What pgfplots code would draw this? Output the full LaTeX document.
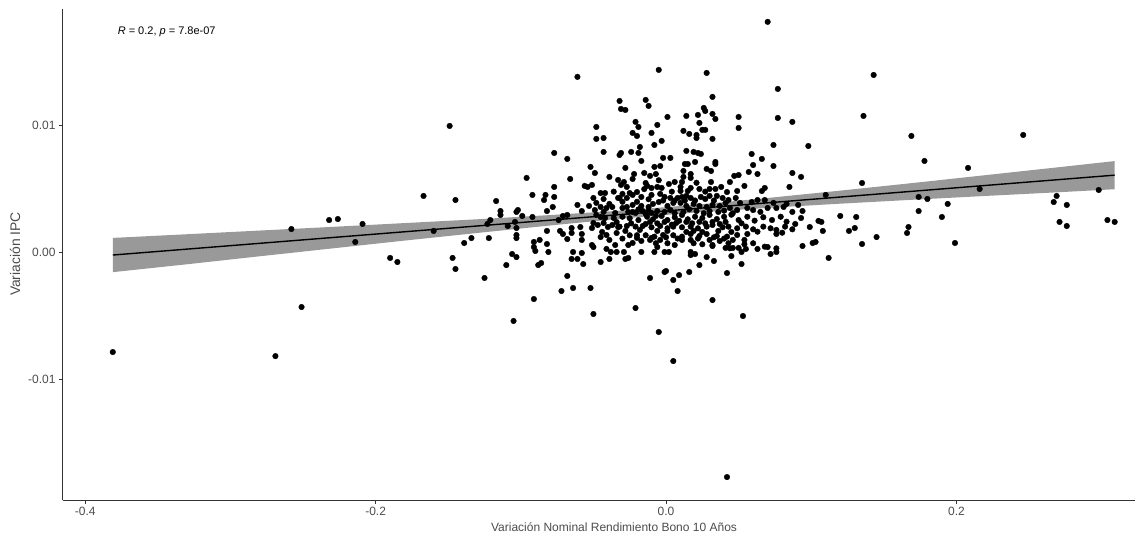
\documentclass[border=0pt]{standalone}
\usepackage{fontspec}
\setmainfont{Liberation Sans}
\usepackage{pgfplots}
\pgfplotsset{compat=1.18}
\definecolor{axisgrey}{gray}{0.2}
\definecolor{ticktext}{gray}{0.3}
\definecolor{bandgrey}{gray}{0.6}
\begin{document}
\begin{tikzpicture}
\useasboundingbox (-63pt,-36pt) rectangle (1072pt,500pt);
\begin{axis}[
  scale only axis, width=1072pt, height=491pt,
  at={(0pt,0pt)}, anchor=south west,
  xmin=-0.41529, xmax=0.32300, ymin=-0.019519, ymax=0.019204,
  axis lines*=left,
  axis line style={line width=1pt, color=axisgrey},
  tick align=outside, major tick length=4pt,
  tick style={color=axisgrey, line width=0.8pt},
  scaled ticks=false,
  xtick={-0.4,-0.2,0,0.2}, xticklabels={-0.4,-0.2,0.0,0.2},
  ytick={-0.01,0,0.01}, yticklabels={-0.01,0.00,0.01},
  ticklabel style={font=\fontsize{12}{14}\selectfont, text=ticktext},
  xlabel={Variación Nominal Rendimiento Bono 10 Años},
  xlabel style={at={(axis description cs:0.514,-0.055)}, anchor=center, text=ticktext, font=\fontsize{12}{14}\selectfont},
  ylabel={Variación IPC},
  ylabel style={at={(axis description cs:-0.0448,0.501)}, anchor=center, text=ticktext, font=\fontsize{13.9}{16}\selectfont},
]
% confidence band of the linear fit
\addplot[fill=bandgrey, draw=none] coordinates {
 (-0.381,0.00115) (-0.33,0.00144) (-0.28,0.00173) (-0.23,0.00202) (-0.18,0.00232)
 (-0.13,0.00262) (-0.08,0.00295) (-0.03,0.00331) (0.02,0.00376) (0.07,0.00430)
 (0.12,0.00488) (0.17,0.00548) (0.22,0.00610) (0.27,0.00672) (0.309,0.00721)
 (0.309,0.00499) (0.27,0.00475) (0.22,0.00446) (0.17,0.00416) (0.12,0.00385)
 (0.07,0.00352) (0.02,0.00315) (-0.03,0.00268) (-0.08,0.00213) (-0.13,0.00154)
 (-0.18,0.00094) (-0.23,0.00032) (-0.28,-0.00030) (-0.33,-0.00093) (-0.381,-0.00155)
} -- cycle;
% fitted line
\addplot[black, line width=1.4pt] coordinates {(-0.381,-0.0002) (0.309,0.0061)};
% observations
\addplot[only marks, mark=*, mark size=2.8pt, black] coordinates {
(-0.381,-0.00785) (-0.269,-0.00817) (-0.251,-0.00430) (-0.167,0.00446) (-0.258,0.00185)
(-0.232,0.00256) (-0.226,0.00264) (-0.209,0.00225) (-0.214,0.00083) (-0.190,-0.00043)
(-0.185,-0.00075) (-0.160,0.00170) (-0.149,0.00998) (-0.145,0.00414) (-0.147,-0.00043)
(-0.145,-0.00130) (-0.125,-0.00201) (-0.139,0.00075) (-0.134,0.00114) (-0.122,0.00114)
(-0.117,0.00406) (-0.114,0.00327) (-0.114,0.00296) (-0.123,0.00225) (-0.121,0.00256)
(-0.109,0.00209) (-0.103,0.00320) (-0.102,0.00335) (-0.099,0.00288) (-0.104,0.00241)
(-0.103,0.00193) (-0.103,0.00138) (-0.103,0.00114) (-0.110,-0.00099) (-0.106,-0.00012)
(-0.103,-0.00036) (-0.105,-0.00540) (-0.091,-0.00367) (-0.090,0.00012) (-0.091,0.00043)
(-0.088,-0.00099) (-0.086,-0.00083) (-0.081,0.00004) (-0.068,-0.00185) (-0.072,-0.00304)
(-0.064,-0.00280) (-0.052,-0.00280) (-0.050,-0.00485) (-0.065,-0.00051) (-0.061,-0.00051)
(-0.064,0.00004) (-0.058,-0.00004) (-0.057,-0.00091) (-0.045,-0.00075) (-0.039,-0.00051)
(-0.041,0.00028) (-0.038,0.00004) (-0.034,0.00004) (-0.050,0.00043) (-0.029,0.00004)
(-0.028,-0.00051) (-0.026,-0.00043) (-0.017,0.00004) (-0.008,0.00004) (-0.006,0.00043)
(-0.001,0.00004) (0.002,0.00004) (-0.011,-0.00201) (-0.001,-0.00154) (0.000,-0.00146)
(0.005,-0.00217) (0.009,-0.00178) (0.008,-0.00304) (0.016,-0.00154) (0.017,0.00004)
(0.017,-0.00020) (0.020,-0.00012) (0.023,-0.00099) (0.028,-0.00036) (0.033,-0.00067)
(0.032,0.00051) (0.041,0.00036) (0.046,0.00036) (0.050,0.00036) (0.052,0.00004)
(0.055,0.00028) (0.045,-0.00028) (0.052,-0.00091) (0.042,-0.00162) (0.032,-0.00375)
(0.053,-0.00501) (-0.021,-0.00438) (-0.005,-0.00627) (0.005,-0.00856) (0.042,-0.01771)
(0.063,0.00028) (0.070,0.00043) (0.072,-0.00012) (0.076,0.00004) (0.094,0.00051)
(0.143,0.01400) (0.136,0.01077) (0.098,0.00840) (0.169,0.00919) (0.246,0.00927)
(0.178,0.00722) (0.208,0.00667) (0.093,0.00596) (0.135,0.00548) (0.110,0.00454)
(0.216,0.00501) (0.298,0.00493) (0.269,0.00446) (0.267,0.00398) (0.276,0.00375)
(0.174,0.00438) (0.180,0.00422) (0.194,0.00383) (0.174,0.00327) (0.190,0.00280)
(0.094,0.00327) (0.093,0.00272) (0.120,0.00288) (0.131,0.00280) (0.105,0.00249)
(0.107,0.00241) (0.099,0.00201) (0.108,0.00170) (0.126,0.00170) (0.130,0.00193)
(0.167,0.00201) (0.166,0.00154) (0.145,0.00122) (0.101,0.00075) (0.103,0.00083)
(0.135,0.00067) (0.199,0.00075) (0.112,-0.00043) (0.271,0.00241) (0.276,0.00209)
(0.304,0.00256) (0.309,0.00241)
(0.070,0.01819) (-0.061,0.01385) (-0.005,0.01440) (0.028,0.01416) (0.077,0.01290)
(0.032,0.01227) (0.077,0.01061) (0.087,0.01030) (-0.032,0.01195) (-0.031,0.01132)
(-0.028,0.01124) (-0.014,0.01203) (-0.012,0.01156) (-0.048,0.00990) (-0.048,0.00896)
(-0.043,0.00903) (-0.021,0.01030) (-0.019,0.00990) (-0.023,0.00943) (-0.020,0.00919)
(-0.006,0.01006) (-0.010,0.00943) (-0.003,0.00880) (-0.008,0.00848) (0.001,0.01069)
(0.014,0.01077) (0.022,0.01085) (0.026,0.01140) (0.027,0.01116) (0.032,0.01093)
(0.034,0.01053) (0.023,0.01022) (0.025,0.00967) (0.027,0.00967) (0.021,0.00927)
(0.016,0.00935) (0.012,0.00959) (0.021,0.00903) (0.032,0.00896) (0.050,0.01069)
(0.050,0.00982) (0.074,0.00848) (0.074,0.00682) (0.087,0.00627) (-0.043,0.00793)
(-0.032,0.00769) (-0.031,0.00785) (-0.024,0.00793) (-0.019,0.00785) (-0.017,0.00722)
(-0.018,0.00832) (0.014,0.00801) (0.019,0.00793) (0.022,0.00785) (0.024,0.00777)
(-0.077,0.00785) (-0.068,0.00738) (-0.096,0.00588) (-0.066,0.00580) (-0.052,0.00675)
(-0.049,0.00627) (-0.039,0.00596) (-0.033,0.00572) (-0.028,0.00667) (-0.022,0.00619)
(-0.015,0.00627) (-0.011,0.00604) (-0.007,0.00619) (-0.004,0.00682) (-0.002,0.00746)
(0.003,0.00746) (0.013,0.00698) (0.015,0.00698) (0.017,0.00619) (0.012,0.00643)
(0.020,0.00714) (0.028,0.00659) (0.034,0.00714) (0.034,0.00698) (0.031,0.00643)
(0.059,0.00777) (0.066,0.00738) (0.060,0.00690) (0.057,0.00635) (0.063,0.00619)
(0.047,0.00604) (0.050,0.00611) (-0.092,0.00454) (-0.083,0.00454) (-0.084,0.00414)
(-0.077,0.00438) (-0.077,0.00517) (-0.082,0.00327) (-0.078,0.00359) (-0.056,0.00525)
(-0.051,0.00533) (-0.061,0.00375) (-0.058,0.00327) (-0.053,0.00367) (-0.045,0.00469)
(-0.042,0.00469) (-0.092,0.00280) (-0.091,0.00083) (-0.087,0.00099) (-0.082,0.00067)
(-0.082,0.00170) (-0.074,0.00256) (-0.071,0.00288) (-0.068,0.00296) (-0.073,0.00170)
(-0.071,0.00146) (-0.068,0.00106) (-0.065,0.00193) (-0.065,0.00154) (-0.059,0.00201)
(-0.058,0.00146) (-0.033,0.00430) (-0.058,0.00099) (-0.051,0.00059) (-0.045,0.00122)
(-0.039,0.00099) (-0.035,0.00059) (-0.054,0.00517) (-0.050,0.00430) (-0.043,0.00422)
(-0.048,0.00391) (-0.049,0.00335) (-0.045,0.00359) (-0.043,0.00320) (-0.041,0.00351)
(-0.037,0.00359) (-0.035,0.00312) (-0.048,0.00296) (-0.045,0.00280) (-0.042,0.00272)
(-0.050,0.00233) (-0.047,0.00217) (-0.043,0.00233) (-0.040,0.00201) (-0.037,0.00217)
(-0.033,0.00201) (-0.051,0.00193) (-0.044,0.00162) (-0.041,0.00138)
(0.044,0.00556) (0.038,0.00517) (0.031,0.00556) (0.030,0.00501) (0.034,0.00501)
(0.023,0.00501) (0.017,0.00509) (0.015,0.00485) (0.010,0.00485) (-0.003,0.00509)
(-0.006,0.00517) (-0.010,0.00509) (-0.013,0.00525) (-0.014,0.00548) (-0.027,0.00517)
(-0.031,0.00533) (-0.020,0.00477) (-0.025,0.00469) (0.085,0.00517) (0.068,0.00509)
(0.066,0.00485) (0.054,0.00525) (0.049,0.00485) (0.042,0.00477) (0.011,0.00556)
(0.006,0.00556) (0.002,0.00540) (0.010,0.00517) (-0.029,0.00556)
(-0.032,0.00430) (-0.027,0.00430) (-0.023,0.00454) (-0.017,0.00438) (-0.010,0.00454)
(-0.004,0.00462) (-0.001,0.00438) (0.003,0.00430) (0.008,0.00430) (0.011,0.00438)
(0.014,0.00446) (0.017,0.00430) (0.024,0.00438) (0.027,0.00422) (0.030,0.00446)
(0.035,0.00446) (0.039,0.00430) (0.043,0.00414) (0.048,0.00430) (0.051,0.00391)
(0.059,0.00398) (0.063,0.00414) (0.068,0.00414) (0.074,0.00391) (0.083,0.00383)
(0.091,0.00375) (0.087,0.00320) (0.081,0.00359) (0.076,0.00351) (0.070,0.00351)
(0.065,0.00320) (0.060,0.00335) (0.056,0.00351) (0.049,0.00335) (0.044,0.00351)
(0.037,0.00367) (0.032,0.00375) (0.028,0.00359) (0.023,0.00367) (0.019,0.00383)
(0.014,0.00367) (0.010,0.00391) (0.005,0.00391) (0.001,0.00367) (-0.005,0.00398)
(-0.009,0.00383) (-0.012,0.00359) (-0.017,0.00367) (-0.023,0.00375) (-0.027,0.00359)
(-0.030,0.00351) (-0.006,0.00327) (-0.010,0.00312) (-0.016,0.00327) (-0.021,0.00312)
(-0.030,0.00282) (-0.025,0.00270) (-0.019,0.00256) (-0.013,0.00282) (-0.009,0.00262)
(-0.003,0.00288) (0.001,0.00256) (0.006,0.00278) (0.011,0.00296) (0.015,0.00262)
(0.020,0.00282) (0.025,0.00272) (0.030,0.00296) (0.035,0.00264) (0.040,0.00282)
(0.045,0.00298) (0.050,0.00256) (0.056,0.00282) (0.061,0.00251) (0.067,0.00278)
(0.073,0.00256) (0.079,0.00282) (0.083,0.00243) (0.089,0.00225)
(-0.032,0.00204) (-0.027,0.00209) (-0.021,0.00204) (-0.016,0.00209) (-0.010,0.00199)
(-0.004,0.00209) (0.001,0.00191) (0.005,0.00204) (0.011,0.00199) (0.017,0.00204)
(0.022,0.00191) (0.028,0.00204) (0.032,0.00217) (0.039,0.00199) (0.043,0.00204)
(0.049,0.00191) (0.055,0.00204) (0.060,0.00183) (0.067,0.00204) (0.072,0.00191)
(0.076,0.00178) (0.082,0.00204) (0.087,0.00183)
(-0.025,0.00136) (-0.020,0.00136) (-0.014,0.00136) (-0.008,0.00125) (-0.002,0.00138)
(0.005,0.00136) (0.011,0.00125) (0.017,0.00146) (0.023,0.00130) (0.028,0.00146)
(0.035,0.00130) (0.042,0.00125) (0.049,0.00138) (0.056,0.00146) (0.076,0.00146)
(0.080,0.00156) (0.043,0.00073) (0.046,0.00099) (0.063,0.00164) (-0.026,0.00059)
(-0.007,0.00073) (0.001,0.00073) (0.006,0.00059) (0.019,0.00073) (0.025,0.00065)
(0.032,0.00059) (0.044,0.00033) (0.054,0.00065) (0.060,0.00073) (0.068,0.00046)
(0.076,0.00033) (-0.008,0.00675) (0.017,0.00588) (0.012,0.00596) (-0.023,0.00580)
(-0.023,0.00320) (-0.014,0.00304) (-0.007,0.00288) (-0.001,0.00320) (0.003,0.00335)
(0.012,0.00320) (0.021,0.00327) (0.030,0.00327) (0.036,0.00320) (0.041,0.00241)
(0.032,0.00241) (0.023,0.00241) (0.014,0.00241) (0.007,0.00233) (-0.001,0.00241)
(-0.011,0.00241) (-0.018,0.00178) (-0.028,0.00170) (-0.006,0.00170) (0.001,0.00170)
(0.014,0.00162) (0.019,0.00170) (0.025,0.00162) (0.036,0.00170) (0.045,0.00162)
(-0.017,0.00091) (-0.011,0.00099) (-0.004,0.00099) (0.011,0.00099) (0.017,0.00099)
(0.030,0.00099) (0.037,0.00091) (0.054,0.00099) (-0.023,0.00075) (-0.034,0.00154)
(-0.036,0.00272) (-0.039,0.00383) (-0.030,0.00462)
(-0.036,0.00480) (-0.030,0.00400) (-0.020,0.00400) (-0.012,0.00420) (-0.002,0.00410)
(0.006,0.00410) (0.013,0.00410) (0.020,0.00410) (0.033,0.00410) (0.041,0.00390)
(-0.026,0.00320) (-0.019,0.00340) (-0.012,0.00330) (0.006,0.00310) (0.016,0.00340)
(0.026,0.00310) (0.040,0.00330) (0.046,0.00310)
(-0.034,0.00240) (-0.024,0.00230) (-0.014,0.00225) (-0.006,0.00230) (0.004,0.00220)
(0.009,0.00250) (0.018,0.00230) (0.027,0.00230) (0.037,0.00225) (0.052,0.00230)
(-0.030,0.00110) (-0.020,0.00115) (-0.010,0.00115) (0.000,0.00120) (0.008,0.00110)
(0.022,0.00110) (0.033,0.00120) (0.040,0.00110)
(-0.015,0.00500) (0.004,0.00480) (0.027,0.00480) (0.021,0.00550) (-0.005,0.00570)
};
\node[anchor=west, font=\fontsize{11}{13}\selectfont] at (axis cs:-0.380,0.01739) {\textit{R} = 0.2, \textit{p} = 7.8e-07};
\end{axis}
\end{tikzpicture}
\end{document}
